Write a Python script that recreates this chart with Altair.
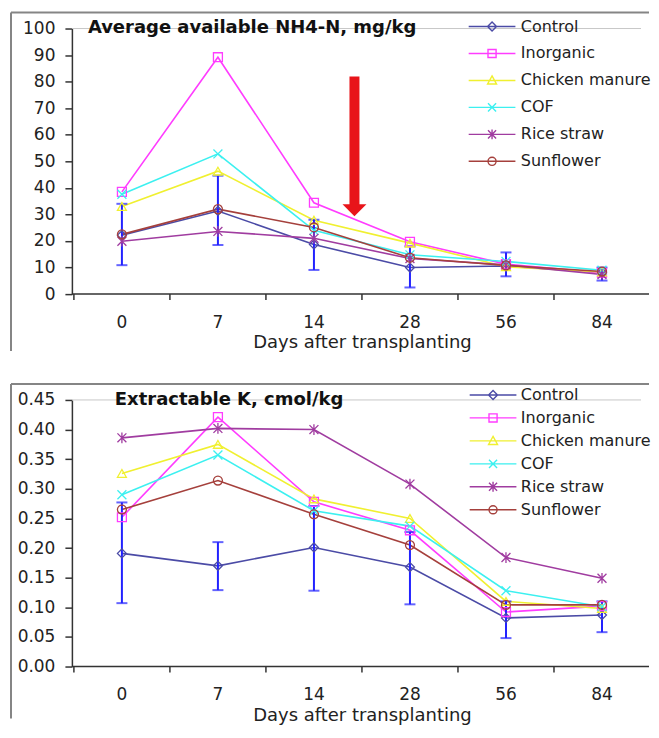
import altair as alt
import pandas as pd

FONT = "DejaVu Sans"

days = ["0", "7", "14", "28", "56", "84"]
series = ["Control", "Inorganic", "Chicken manure", "COF", "Rice straw", "Sunflower"]
colors = ["#4b4ba6", "#ff3cff", "#f0f030", "#3cf0f0", "#a03ca0", "#a5403c"]
# marker shapes on the data points
shapes = [
    "diamond",
    "square",
    "triangle-up",
    "M-1,-1L1,1M-1,1L1,-1",
    "M-1,-1L1,1M-1,1L1,-1M0,-1.2L0,1.2",
    "circle",
]
# legend keys: a line through each marker
legend_keys = [
    "M-5.2,0H5.2M-1,0L0,-1L1,0L0,1Z",
    "M-5.2,0H5.2M-0.9,-0.9H0.9V0.9H-0.9Z",
    "M-5.2,0H5.2M0,-1L1,0.8H-1Z",
    "M-5.2,0H5.2M-0.9,-0.9L0.9,0.9M-0.9,0.9L0.9,-0.9",
    "M-5.2,0H5.2M-0.9,-0.9L0.9,0.9M-0.9,0.9L0.9,-0.9M0,-1.1L0,1.1",
    "M-5.2,0H5.2M0.9,0A0.9,0.9,0,1,1,-0.9,0A0.9,0.9,0,1,1,0.9,0Z",
]

# Panel 1: Average available NH4-N, mg/kg
nh4_control = [22.2, 31.3, 18.7, 10.0, 10.6, 8.2]
nh4_inorganic = [38.5, 89.2, 34.4, 19.7, 11.3, 8.0]
nh4_chicken = [33.0, 46.3, 27.8, 19.2, 10.3, 8.3]
nh4_cof = [37.6, 52.8, 24.0, 14.8, 12.3, 9.0]
nh4_rice = [19.9, 23.6, 21.0, 13.4, 11.0, 7.4]
nh4_sunflower = [22.5, 32.0, 25.1, 13.7, 10.8, 8.5]
nh4_control_lo = [10.9, 18.5, 9.1, 2.5, 6.7, 5.1]
nh4_control_hi = [34.0, 44.6, 28.0, 18.0, 15.7, 10.0]
nh4_ticks = [0, 10, 20, 30, 40, 50, 60, 70, 80, 90, 100]

# Panel 2: Extractable K, cmol/kg
k_control = [0.191, 0.170, 0.201, 0.168, 0.082, 0.087]
k_inorganic = [0.252, 0.421, 0.278, 0.230, 0.092, 0.102]
k_chicken = [0.326, 0.375, 0.283, 0.250, 0.110, 0.098]
k_cof = [0.290, 0.357, 0.263, 0.237, 0.128, 0.101]
k_rice = [0.386, 0.402, 0.400, 0.308, 0.184, 0.149]
k_sunflower = [0.265, 0.314, 0.257, 0.205, 0.104, 0.104]
k_control_lo = [0.107, 0.129, 0.128, 0.105, 0.048, 0.058]
k_control_hi = [0.277, 0.210, 0.271, 0.227, 0.110, 0.110]
k_ticks = [0.0, 0.05, 0.10, 0.15, 0.20, 0.25, 0.30, 0.35, 0.40, 0.45]


def make_df(vals, lo, hi):
    rows = []
    for s, v in zip(series, vals):
        for i, d in enumerate(days):
            r = {"day": d, "series": s, "value": v[i]}
            if s == "Control":
                r["lo"] = lo[i]
                r["hi"] = hi[i]
            rows.append(r)
    return pd.DataFrame(rows)


df_nh4 = make_df([nh4_control, nh4_inorganic, nh4_chicken, nh4_cof, nh4_rice, nh4_sunflower],
                 nh4_control_lo, nh4_control_hi)
df_k = make_df([k_control, k_inorganic, k_chicken, k_cof, k_rice, k_sunflower],
               k_control_lo, k_control_hi)

one = pd.DataFrame({"k": [0]})

W = 570
XRANGE = [2, 579]
FX = -61


def panel(df, title, ymax, yvals, yfmt, H, tx, ty, lcx, llab, lcy, rowstep, title_pad,
          frame_bottom, arrow=None):
    xaxis = alt.Axis(title="Days after transplanting", ticks=False, tickSize=0,
                     labelAngle=0, domain=False, labelPadding=20, titlePadding=title_pad)
    xenc = alt.X("day:N", sort=days,
                 scale=alt.Scale(type="band", paddingInner=0, paddingOuter=0, range=XRANGE),
                 axis=xaxis)
    xs = alt.X("day:N", sort=days, axis=xaxis)
    yaxis = alt.Axis(title=None, values=yvals, format=yfmt, grid=False, labelOverlap=False,
                     tickSize=7, labelPadding=10)
    yscale = alt.Scale(domain=[0, ymax], nice=False, zero=True)

    def Y(f):
        return alt.Y(f, scale=yscale, axis=yaxis)

    base = alt.Chart(df)

    frame_top = alt.Chart(one).mark_rule(color="#858585", strokeWidth=2).encode(
        x=alt.value(FX), x2=alt.value(W + 8), y=alt.value(-16))
    frame_left = alt.Chart(one).mark_rule(color="#858585", strokeWidth=2).encode(
        x=alt.value(FX), y=alt.value(-16), y2=alt.value(frame_bottom))
    top_line = alt.Chart(one).mark_rule(color="#c8c8c8", strokeWidth=1).encode(
        x=alt.value(0), x2=alt.value(W), y=alt.value(0))
    x_line = alt.Chart(one).mark_rule(color="#333", strokeWidth=1.5).encode(
        x=alt.value(0), x2=alt.value(W + 8), y=alt.value(H))

    cscale = alt.Scale(domain=series, range=colors)

    lines = base.mark_line(strokeWidth=1.6).encode(
        x=xenc, y=Y("value:Q"),
        color=alt.Color("series:N", scale=cscale, legend=None),
    )

    ctrl = base.transform_filter(alt.datum.series == "Control")
    # x-axis ticks on the band boundaries
    xticks = ctrl.mark_rule(color="#333", strokeWidth=1.5).encode(
        x=alt.X("day:N", sort=days, bandPosition=0, axis=xaxis),
        y=alt.value(H), y2=alt.value(H + 6))
    err = ctrl.mark_rule(color="#2222ff", strokeWidth=2).encode(
        x=xs, y=Y("lo:Q"), y2="hi:Q")
    cap_lo = ctrl.mark_tick(color="#2222ff", thickness=2, size=11).encode(x=xs, y=Y("lo:Q"))
    cap_hi = ctrl.mark_tick(color="#2222ff", thickness=2, size=11).encode(x=xs, y=Y("hi:Q"))

    points = base.mark_point(filled=False, size=80, strokeWidth=1.3, opacity=1).encode(
        x=xs, y=Y("value:Q"),
        color=alt.Color("series:N", scale=cscale, legend=None),
        shape=alt.Shape("series:N", scale=alt.Scale(domain=series, range=shapes), legend=None),
    )

    symw = 9 + 1.4
    leg = alt.Legend(title=None, orient="none", legendX=lcx - 2 - symw / 2, legendY=lcy - 8,
                     padding=0, labelFont=FONT, labelFontSize=16, labelColor="#222",
                     rowPadding=rowstep - 16, symbolSize=81, symbolStrokeWidth=1.4,
                     labelOffset=llab - lcx - symw / 2 - 3)
    key = base.transform_filter("false").mark_point(filled=False, opacity=1).encode(
        x=xs, y=Y("value:Q"),
        color=alt.Color("series:N", scale=cscale, legend=leg),
        shape=alt.Shape("series:N", scale=alt.Scale(domain=series, range=legend_keys), legend=leg),
    )

    ttl = alt.Chart(one).mark_text(text=title, font=FONT, fontSize=18, fontWeight="bold",
                                   align="left", baseline="top", color="#111").encode(
        x=alt.value(tx), y=alt.value(ty))

    layers = [frame_top, frame_left, top_line, lines, x_line, xticks, err, cap_lo, cap_hi,
              points, key, ttl]
    if arrow:
        ax, ay0, ay1 = arrow
        body = alt.Chart(one).mark_rect(color="#e8141a").encode(
            x=alt.value(ax - 5), x2=alt.value(ax + 5), y=alt.value(ay0), y2=alt.value(ay1 - 10))
        head = alt.Chart(one).mark_point(shape="M-1,-0.5L1,-0.5L0,0.5Z", filled=True,
                                         size=576, color="#e8141a", opacity=1).encode(
            x=alt.value(ax), y=alt.value(ay1 - 6))
        layers += [body, head]
    return alt.layer(*layers).resolve_scale(shape="independent", color="independent").properties(
        width=W, height=H)


H1 = 266
H2 = 267
top = panel(df_nh4, "Average available NH4-N, mg/kg", 100, nh4_ticks, "d",
            H1, 16, -10, 420, 449, -2, 27, 3, H1 + 57, arrow=(283, 48, 188))
bottom = panel(df_k, "Extractable K, cmol/kg", 0.45, k_ticks, ".2f",
               H2, 43, -9, 421, 449, -5, 23, 4, H2 + 52)

chart = alt.vconcat(top, bottom, spacing=31).resolve_scale(
    color="independent", shape="independent", x="independent", y="independent",
).configure(
    padding={"left": 2, "top": 3, "right": 0, "bottom": 0},
).configure_view(stroke=None).configure_axis(
    labelFont=FONT, titleFont=FONT, labelFontSize=17, titleFontSize=18,
    titleFontWeight="normal", labelColor="#222", titleColor="#222",
    domainColor="#333", domainWidth=1.5, tickColor="#333", tickWidth=1.5,
    labelOverlap=False,
)

chart.save("out.html", embed_options={"renderer": "svg", "actions": False})
